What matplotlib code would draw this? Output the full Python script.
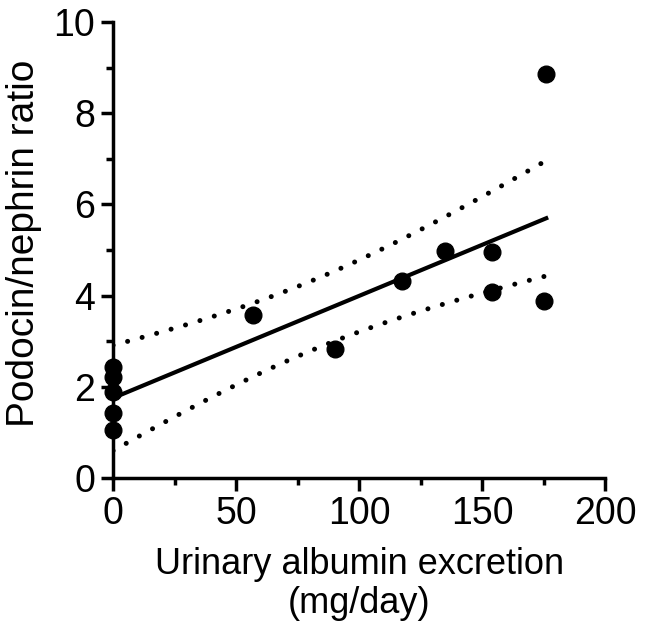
import numpy as np
import matplotlib.pyplot as plt
from matplotlib.ticker import MultipleLocator

plt.rcParams['font.family'] = ['Liberation Sans', 'DejaVu Sans']

# data
uae = np.array([0, 0, 0, 0, 0, 57, 90, 117.5, 135, 154, 154, 175, 176])
ratio = np.array([2.44, 2.22, 1.89, 1.42, 1.05, 3.57, 2.83, 4.33, 4.98, 4.96, 4.08, 3.88, 8.87])

# linear fit with 95% confidence band
n = len(uae)
slope, icpt = np.polyfit(uae, ratio, 1)
resid = ratio - (slope * uae + icpt)
s = np.sqrt(np.sum(resid ** 2) / (n - 2))
t95 = 2.201  # t(0.975, df=11)
xf = np.linspace(uae.min(), uae.max(), 200)
yf = slope * xf + icpt
se = s * np.sqrt(1.0 / n + (xf - uae.mean()) ** 2 / np.sum((uae - uae.mean()) ** 2))

fig = plt.figure(figsize=(6.46, 6.31), dpi=100)
ax = fig.add_axes([0.175, 0.2425, 0.762, 0.7225])

ax.plot(xf, yf, color='black', lw=3)
dots = dict(color='black', lw=3.6, linestyle=(0, (0.01, 3)), dash_capstyle='round')
ax.plot(xf, yf + t95 * se, **dots)
ax.plot(xf, yf - t95 * se, **dots)
ax.plot(uae, ratio, 'o', color='black', ms=12, clip_on=False, zorder=5)

ax.set_xlim(0, 200)
ax.set_ylim(0, 10)
ax.xaxis.set_major_locator(MultipleLocator(50))
ax.xaxis.set_minor_locator(MultipleLocator(25))
ax.yaxis.set_major_locator(MultipleLocator(2))
ax.yaxis.set_minor_locator(MultipleLocator(1))
for side in ['top', 'right']:
    ax.spines[side].set_visible(False)
for side in ['left', 'bottom']:
    ax.spines[side].set_linewidth(2.5)
ax.tick_params(which='major', length=9, width=2.5, labelsize=27, pad=4)
ax.tick_params(which='minor', length=5, width=2.5)

ax.set_xlabel('Urinary albumin excretion\n(mg/day)', fontsize=26, labelpad=11,
              linespacing=1.15)
ax.set_ylabel('Podocin/nephrin ratio', fontsize=28, labelpad=8)
ax.yaxis.label.set_y(0.515)

fig.savefig('out.png', dpi=100)
